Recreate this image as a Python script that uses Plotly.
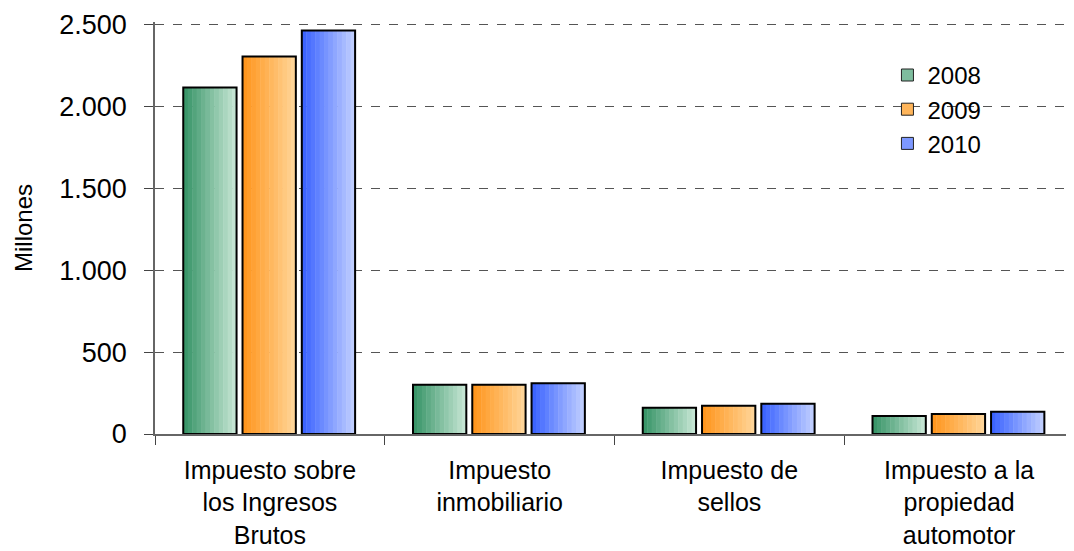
import plotly.graph_objects as go

categories = ["Impuesto sobre<br>los Ingresos<br>Brutos", "Impuesto<br>inmobiliario",
              "Impuesto de<br>sellos", "Impuesto a la<br>propiedad<br>automotor"]
years = ["2008", "2009", "2010"]
v2008 = [2115, 300, 161, 110]
v2009 = [2304, 300, 173, 122]
v2010 = [2463, 310, 185, 136]
values = [v2008, v2009, v2010]

# dark -> light colour pairs for the horizontal gradient
dark = [(58, 150, 105), (255, 150, 30), (60, 100, 255)]
light = [(195, 228, 210), (255, 212, 150), (190, 205, 255)]

bar_w = 0.232
step = 0.258
first_left = -0.377
n_slices = 12

fig = go.Figure()
for i, yr in enumerate(years):
    left = first_left + i * step
    for k in range(n_slices):
        t = k / (n_slices - 1)
        c = tuple(round(dark[i][j] + (light[i][j] - dark[i][j]) * t) for j in range(3))
        fig.add_trace(go.Bar(
            x=categories, y=values[i], width=bar_w / n_slices + 0.002,
            offset=left + k * bar_w / n_slices,
            marker=dict(color="rgb(%d,%d,%d)" % c, line=dict(width=0)),
            showlegend=False, hoverinfo="skip"))
    # outline
    fig.add_trace(go.Bar(
        x=categories, y=values[i], width=bar_w, offset=left,
        marker=dict(color="rgba(0,0,0,0)", line=dict(color="black", width=2)),
        showlegend=False, name=yr))
    # legend entry
    mid = tuple(round((dark[i][j] + light[i][j]) / 2) for j in range(3))
    fig.add_trace(go.Bar(
        x=[None], y=[None], name=yr,
        marker=dict(color="rgb(%d,%d,%d)" % mid, line=dict(color="#222", width=1))))

# page body has an 8px margin, so the figure is sized/offset to fit
fig.update_layout(
    width=1066, height=543,
    barmode="overlay",
    plot_bgcolor="white", paper_bgcolor="white",
    separators=",.",
    margin=dict(l=147, r=0, t=14, b=117),
    font=dict(family="Liberation Sans, Arial, sans-serif", color="black"),
    legend=dict(x=0.797, y=0.925, xanchor="left", yanchor="top",
                font=dict(size=24), bgcolor="rgba(0,0,0,0)",
                itemwidth=30, tracegroupgap=0),
    xaxis=dict(type="category", tickson="boundaries", ticks="outside", ticklen=9,
               tickcolor="#444", showline=True, linecolor="#666", linewidth=1.5,
               showgrid=False, tickfont=dict(size=25), ticklabelstandoff=13,
               automargin=False),
    yaxis=dict(range=[0, 2515], tickvals=[0, 500, 1000, 1500, 2000, 2500],
               tickformat=",d", ticks="outside", ticklen=9, tickcolor="#444",
               showline=True, linecolor="#666", linewidth=1.5,
               showgrid=True, gridcolor="#555", griddash="dash", gridwidth=1,
               zeroline=False, tickfont=dict(size=27), ticklabelstandoff=12,
               automargin=False,
               title=dict(text="Millones", font=dict(size=24), standoff=20)),
)

fig.write_html("out.html")
